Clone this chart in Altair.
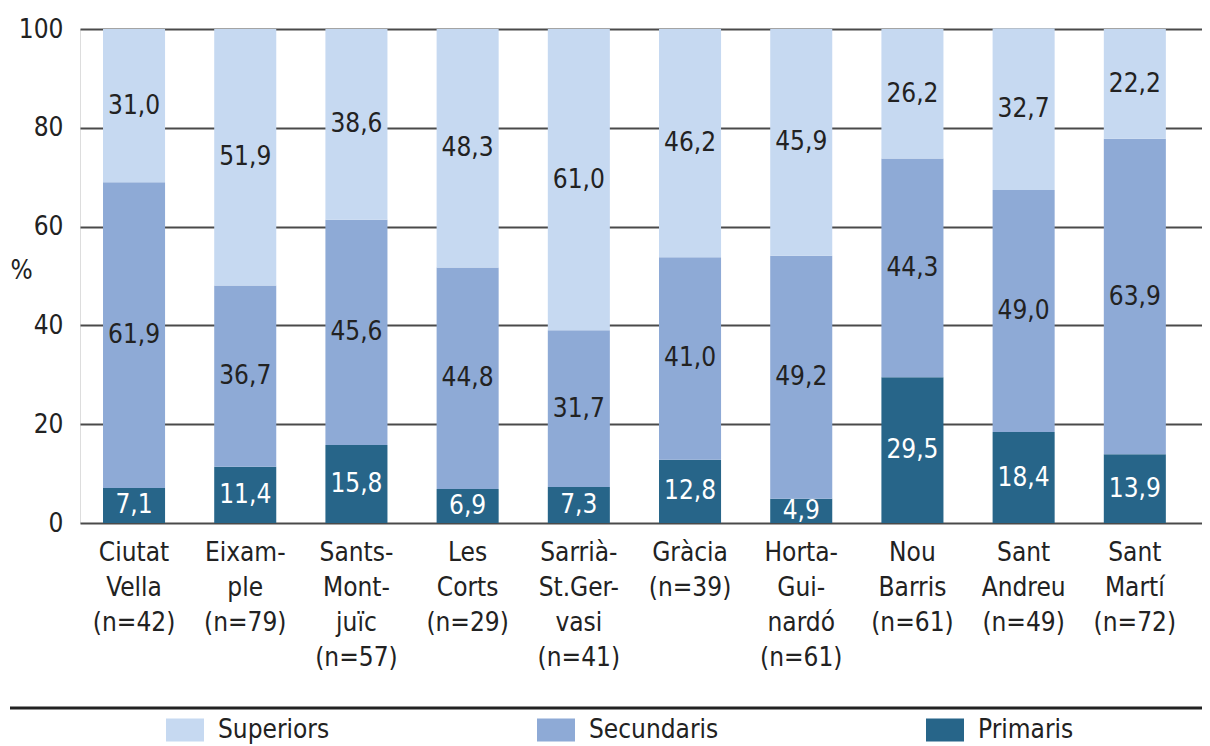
import altair as alt
import pandas as pd

districts = [
    "Ciutat|Vella|(n=42)",
    "Eixam-|ple|(n=79)",
    "Sants-|Mont-|juïc|(n=57)",
    "Les|Corts|(n=29)",
    "Sarrià-|St.Ger-|vasi|(n=41)",
    "Gràcia|(n=39)",
    "Horta-|Gui-|nardó|(n=61)",
    "Nou|Barris|(n=61)",
    "Sant|Andreu|(n=49)",
    "Sant|Martí|(n=72)",
]
primaris = [7.1, 11.4, 15.8, 6.9, 7.3, 12.8, 4.9, 29.5, 18.4, 13.9]
secundaris = [61.9, 36.7, 45.6, 44.8, 31.7, 41.0, 49.2, 44.3, 49.0, 63.9]
superiors = [31.0, 51.9, 38.6, 48.3, 61.0, 46.2, 45.9, 26.2, 32.7, 22.2]

levels = ["Superiors", "Secundaris", "Primaris"]
level_colors = ["#c6d9f1", "#8eaad6", "#276589"]
stack_rank = {"Primaris": 0, "Secundaris": 1, "Superiors": 2}

rows = []
for i, d in enumerate(districts):
    for lev, vals in (("Primaris", primaris), ("Secundaris", secundaris), ("Superiors", superiors)):
        v = vals[i]
        rows.append({
            "district": d,
            "level": lev,
            "value": v,
            "ord": stack_rank[lev],
            "label": f"{v:.1f}".replace(".", ","),
        })
df = pd.DataFrame(rows)

FONT = "Liberation Sans Narrow, DejaVu Sans Condensed, sans-serif"
TXT = "#222222"
FS = 26

x_enc = alt.X(
    "district:N",
    sort=districts,
    scale=alt.Scale(paddingInner=0.442, paddingOuter=0.266, align=0.389),
    axis=alt.Axis(
        title=None,
        labelExpr="split(datum.label, '|')",
        labelAngle=0,
        labelFont=FONT,
        labelFontSize=FS,
        labelColor=TXT,
        labelLineHeight=35,
        labelPadding=16,
        ticks=False,
        domain=False,
        grid=False,
    ),
)

bars = alt.Chart(df).mark_bar().encode(
    x=x_enc,
    y=alt.Y(
        "value:Q",
        stack="zero",
        scale=alt.Scale(domain=[0, 100], nice=False),
        axis=alt.Axis(
            title="%",
            titleAngle=0,
            titleX=-59,
            titleY=241,
            titleAlign="center",
            titleBaseline="middle",
            titleFont=FONT,
            titleFontSize=FS,
            titleFontWeight="normal",
            titleColor=TXT,
            values=[0, 20, 40, 60, 80, 100],
            labelFont=FONT,
            labelFontSize=FS,
            labelColor=TXT,
            labelPadding=17,
            ticks=False,
            domain=False,
            grid=True,
            gridColor="#4a4a4a",
            gridWidth=2,
            gridOpacity=1,
        ),
    ),
    color=alt.Color(
        "level:N",
        scale=alt.Scale(domain=levels, range=level_colors),
        legend=alt.Legend(
            title=None,
            orient="none",
            legendX=86,
            legendY=682,
            direction="horizontal",
            columns=3,
            columnPadding=207,
            padding=0,
            symbolType="M-1,-0.6H1V0.6H-1Z",
            symbolSize=1444,
            symbolStrokeWidth=0,
            symbolOpacity=1,
            labelFont=FONT,
            labelFontSize=FS,
            labelColor=TXT,
            labelOffset=14,
            labelLimit=400,
        ),
    ),
    order=alt.Order("ord:Q", sort="ascending"),
)

labels = alt.Chart(df).transform_stack(
    stack="value",
    as_=["v0", "v1"],
    groupby=["district"],
    sort=[alt.SortField("ord", order="ascending")],
).transform_calculate(
    mid="(datum.v0 + datum.v1) / 2"
).mark_text(font=FONT, fontSize=FS, baseline="middle", align="center").encode(
    x=alt.X("district:N", sort=districts),
    y=alt.Y("mid:Q"),
    text="label:N",
    color=alt.condition(alt.datum.level == "Primaris", alt.value("#ffffff"), alt.value(TXT)),
)

bottom_line = alt.Chart(pd.DataFrame({"k": [0]})).mark_rule(color="#222222", strokeWidth=3).encode(
    x=alt.value(-70), x2=alt.value(1122), y=alt.value(679)
)

chart = alt.layer(bars, labels, bottom_line).properties(
    width=1122,
    height=494,
    autosize=alt.AutoSizeParams(type="none"),
    padding={"left": 72, "top": 21, "right": 0, "bottom": 222},
).configure_view(stroke=None).configure(background="white")

chart.save("out.html", embed_options={"renderer": "svg", "actions": False})
